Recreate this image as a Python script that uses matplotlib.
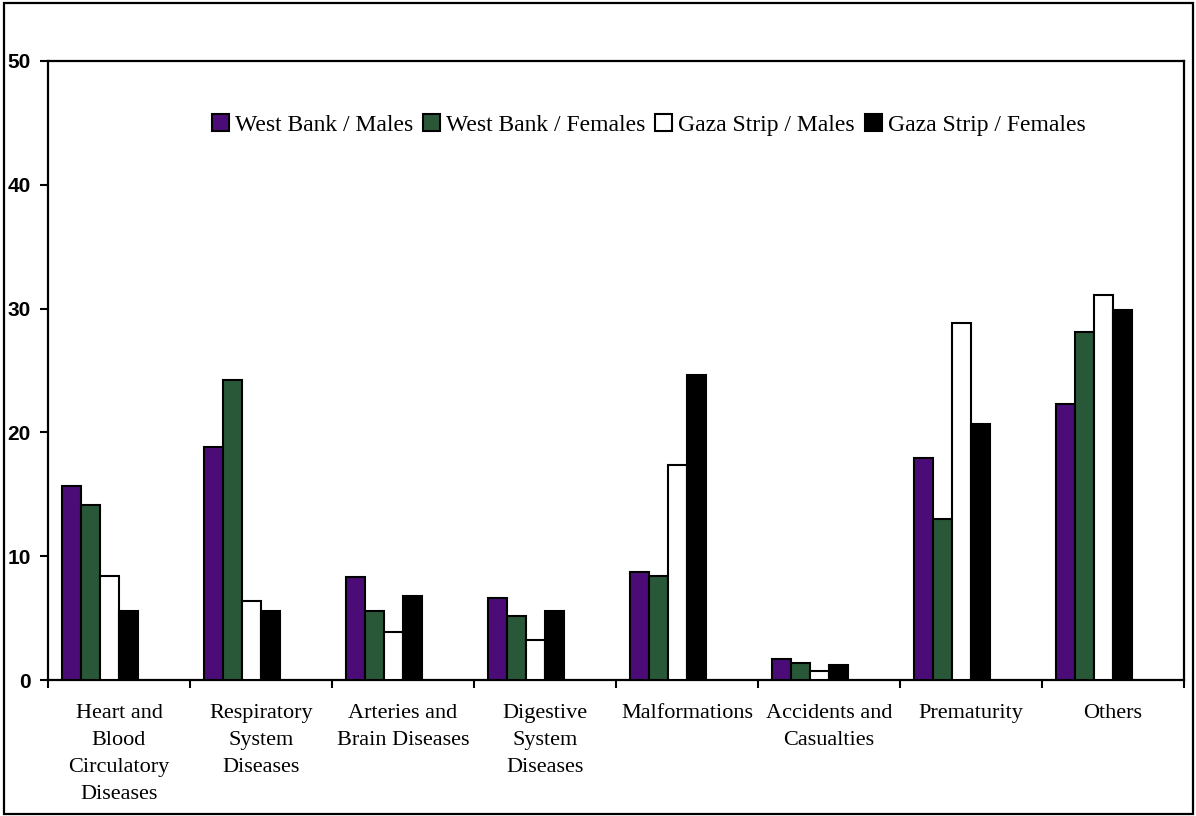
import matplotlib
matplotlib.use("Agg")
import matplotlib.pyplot as plt
from matplotlib.patches import Patch, Rectangle
import numpy as np

# Causes of death (%) by region and sex
categories = [
    "Heart and\nBlood\nCirculatory\nDiseases",
    "Respiratory\nSystem\nDiseases",
    "Arteries and\nBrain Diseases",
    "Digestive\nSystem\nDiseases",
    "Malformations",
    "Accidents and\nCasualties",
    "Prematurity",
    "Others",
]
series_names = [
    "West Bank / Males",
    "West Bank / Females",
    "Gaza Strip / Males",
    "Gaza Strip / Females",
]
west_bank_males = [15.7, 18.8, 8.3, 6.6, 8.7, 1.7, 17.9, 22.3]
west_bank_females = [14.1, 24.2, 5.6, 5.2, 8.4, 1.4, 13.0, 28.1]
gaza_males = [8.4, 6.4, 3.9, 3.2, 17.4, 0.7, 28.8, 31.1]
gaza_females = [5.6, 5.6, 6.8, 5.6, 24.6, 1.2, 20.7, 29.9]
y_ticks = [0, 10, 20, 30, 40, 50]

series = [west_bank_males, west_bank_females, gaza_males, gaza_females]
colors = ["#4b0c78", "#285838", "#ffffff", "#000000"]

serif = ["Liberation Serif", "DejaVu Serif"]
sans = ["Liberation Sans", "DejaVu Sans"]

fig = plt.figure(figsize=(11.96, 8.16), dpi=100)
ax = fig.add_axes([48 / 1196, 1 - 680 / 816, (1184 - 48) / 1196, (680 - 61) / 816])

bar_w = 0.135
first_offset = 0.097
idx = np.arange(len(categories))
for j, (vals, col) in enumerate(zip(series, colors)):
    ax.bar(idx + first_offset + j * bar_w, vals, width=bar_w, align="edge",
           color=col, edgecolor="black", linewidth=1.5, zorder=3)

ax.set_xlim(0, len(categories))
ax.set_ylim(0, 50)

# y axis
ax.set_yticks(y_ticks)
ax.set_yticklabels([str(t) for t in y_ticks], fontfamily=sans,
                   fontweight="bold", fontsize=15)
ax.tick_params(axis="y", direction="out", length=5.5, width=1.5, pad=7)

# x axis: boundary ticks, labels at category centres
ax.set_xticks(np.arange(len(categories) + 1))
ax.set_xticklabels([])
ax.tick_params(axis="x", which="major", direction="out", length=5.5, width=1.5)
ax.set_xticks(idx + 0.5, minor=True)
ax.set_xticklabels(categories, minor=True, fontfamily=serif, fontsize=16,
                   linespacing=1.58, va="top")
ax.tick_params(axis="x", which="minor", length=0, pad=17)

for sp in ax.spines.values():
    sp.set_linewidth(1.6)
    sp.set_color("black")

handles = [Patch(facecolor=c, edgecolor="black", linewidth=1.5) for c in colors]
fig.legend(handles, series_names, loc="center left",
           bbox_to_anchor=(212 / 1196, 1 - 125 / 816),
           ncol=4, frameon=False, prop={"family": serif, "size": 17},
           handlelength=0.72, handleheight=0.72, handletextpad=0.25,
           columnspacing=0.42, borderpad=0, borderaxespad=0)

# outer chart border
fig.patches.append(Rectangle((4 / 1196, 2 / 816), 1189 / 1196, 811 / 816,
                             transform=fig.transFigure, fill=False,
                             edgecolor="black", linewidth=1.6))

fig.savefig("out.png", dpi=100)
